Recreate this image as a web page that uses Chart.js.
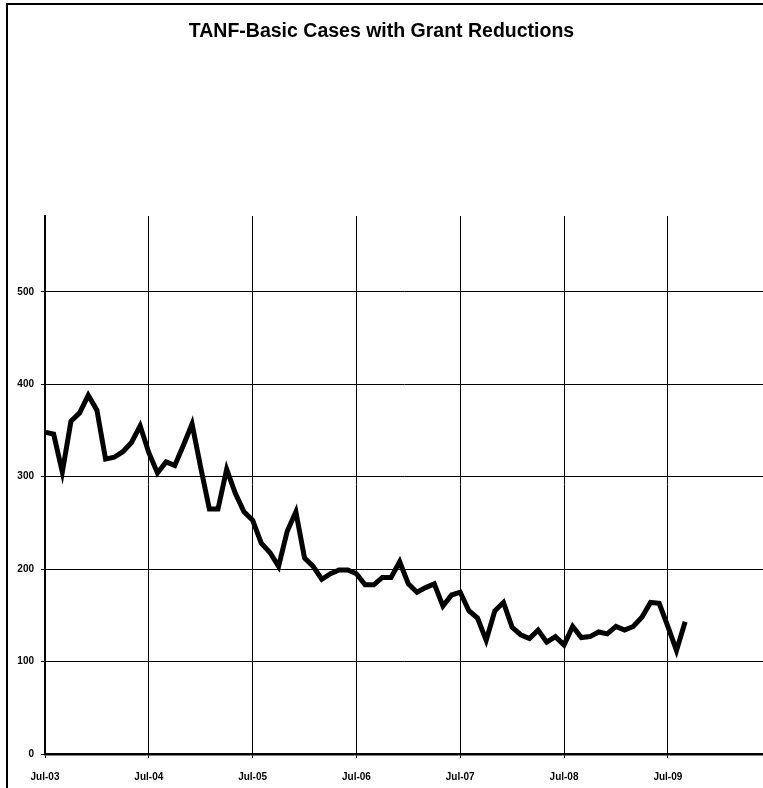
<!DOCTYPE html>
<html>
<head>
<meta charset="utf-8">
<script src="https://cdn.jsdelivr.net/npm/chart.js@4.4.0/dist/chart.umd.min.js"></script>
<style>
  html, body { margin: 0; background: #fff; overflow: hidden; }
  #wrap { position: relative; width: 763px; height: 788px; overflow: hidden; }
  #frame {
    position: absolute; left: 6px; top: 3px; width: 800px; height: 800px;
    border-left: 2px solid #000; border-top: 2px solid #000;
    pointer-events: none;
  }
</style>
</head>
<body>
<div id="wrap">
  <canvas id="tanfCanvas" width="763" height="788"></canvas>
  <div id="frame"></div>
</div>
<script>
// monthly cases, Jul-03 .. Sep-09
var cases = [
  348, 346, 305, 360, 369, 388, 372, 319, 321, 327, 337, 355,
  326, 304, 316, 312, 334, 357, 310, 265, 265, 308, 282, 262,
  253, 228, 218, 203, 241, 262, 212, 203, 189, 195, 199, 199,
  195, 183, 183, 191, 191, 208, 184, 175, 180, 184, 160, 172,
  175, 155, 147, 123, 155, 164, 137, 129, 125, 134, 121, 127,
  118, 138, 126, 127, 132, 130, 138, 134, 138, 148, 164, 163,
  138, 112, 143
];
var yearLabels = ['Jul-03', 'Jul-04', 'Jul-05', 'Jul-06', 'Jul-07', 'Jul-08', 'Jul-09'];
var yTicks = [0, 100, 200, 300, 400, 500];

var tickFont = { family: 'Liberation Sans, Arial, sans-serif', size: 10, weight: 'bold' };

new Chart(
  document.getElementById('tanfCanvas'),
  {
    type: 'line',
    data: {
      datasets: [
        {
          label: 'Cases',
          data: cases.map((v, i) => ({ x: i, y: v })),
          borderColor: '#000',
          borderWidth: 5,
          pointRadius: 0,
          tension: 0,
          fill: false
        }
      ]
    },
    options: {
      responsive: false,
      animation: false,
      layout: { padding: 0 },
      plugins: {
        legend: { display: false },
        tooltip: { enabled: false },
        title: {
          display: true,
          text: 'TANF-Basic Cases with Grant Reductions',
          color: '#000',
          font: { family: 'Liberation Sans, Arial, sans-serif', size: 19.5, weight: 'bold' },
          padding: { top: 20, bottom: 172.6 }
        }
      },
      scales: {
        x: {
          type: 'linear',
          min: 0,
          max: 83,
          afterBuildTicks: s => { s.ticks = yearLabels.map((l, i) => ({ value: i * 12 })); },
          afterFit: s => { s.height = 34; },
          ticks: {
            callback: (v) => yearLabels[Math.round(v / 12)] || '',
            color: '#000',
            font: tickFont,
            padding: 13,
            maxRotation: 0,
            autoSkip: false
          },
          grid: { color: '#000', lineWidth: 1, tickLength: 4 },
          border: { color: '#000', width: 2.5 }
        },
        y: {
          min: 0,
          max: 582,
          afterBuildTicks: s => { s.ticks = yTicks.map(v => ({ value: v })); },
          afterFit: s => { s.width = 45; },
          ticks: {
            color: '#000',
            font: tickFont,
            padding: 7
          },
          grid: { color: '#000', lineWidth: 1, tickLength: 4 },
          border: { color: '#000', width: 2 }
        }
      }
    }
  }
);
</script>
</body>
</html>
